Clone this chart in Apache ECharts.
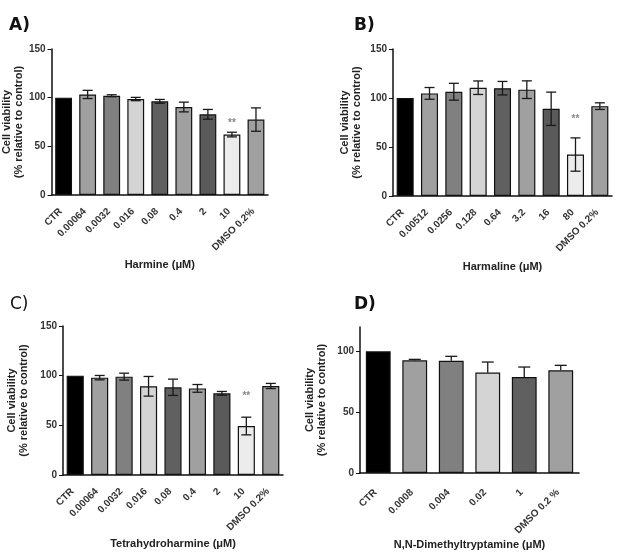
<!DOCTYPE html>
<html>
<head>
<meta charset="utf-8">
<script src="https://cdn.jsdelivr.net/npm/echarts@6/dist/echarts.min.js"></script>
<style>
    body{ margin:0; background:#fff; }
    #chart{ width:618px; height:560px; }
</style>
</head>
<body>
<div id="chart"></div>
<script>
// data
var catsA = ['CTR', '0.00064', '0.0032', '0.016', '0.08', '0.4', '2', '10', 'DMSO 0.2%'];
var meanA = [100, 103.3, 102, 98.6, 96.2, 90.4, 82.9, 62.1, 77.5];
var semA  = [0, 4.2, 1, 1.7, 2, 5, 5, 2.4, 12];
var sigA  = ['', '', '', '', '', '', '', '**', ''];

var catsB = ['CTR', '0.00512', '0.0256', '0.128', '0.64', '3.2', '16', '80', 'DMSO 0.2%'];
var meanB = [100, 104.7, 106.4, 110.5, 110, 108.5, 89, 42.3, 91.7];
var semB  = [0, 6, 8.6, 6.9, 6.9, 9, 17, 17, 3.4];
var sigB  = ['', '', '', '', '', '', '', '**', ''];

var catsC = ['CTR', '0.00064', '0.0032', '0.016', '0.08', '0.4', '2', '10', 'DMSO 0.2%'];
var meanC = [100, 98, 99, 89.3, 88.3, 87.2, 82.2, 49.3, 89.6];
var semC  = [0, 2.2, 3.5, 9.9, 8.2, 3.9, 1.9, 8.9, 2.6];
var sigC  = ['', '', '', '', '', '', '', '**', ''];

var catsD = ['CTR', '0.0008', '0.004', '0.02', '1', 'DMSO 0.2 %'];
var meanD = [100, 92.6, 92.3, 82.5, 78.9, 84.4];
var semD  = [0, 0.8, 3.6, 8.7, 8.2, 4.1];
var sigD  = ['', '', '', '', '', ''];

var yTicks = [0, 50, 100, 150];
var yTicksD = [0, 50, 100];

// gray shades per bar (styling)
var shades9 = ['#000000', '#a0a0a0', '#808080', '#d4d4d4', '#606060', '#a0a0a0', '#5a5a5a', '#ececec', '#a0a0a0'];
var shades6 = ['#000000', '#a0a0a0', '#808080', '#d4d4d4', '#606060', '#a0a0a0'];

var FONT = "'Liberation Sans', Arial, sans-serif";

function barData(means, shades){
    return means.map(function(v, i){
        return {value: v, itemStyle: {color: shades[i]}};
    });
}

function errData(means, sems){
    return means.map(function(v, i){ return [i, v, sems[i]]; });
}

// error bars drawn through the axis scale
function errRender(capW, upperOnly, sig, starGap){
    return function(params, api){
        var i = api.value(0), m = api.value(1), e = api.value(2);
        var style = {stroke: '#1a1a1a', lineWidth: 1.3};
        if (!e) return null;
        var top = api.coord([i, m + e]);
        var bot = api.coord([i, upperOnly ? m : m - e]);
        var h = capW / 2;
        var kids = [
            {type: 'line', shape: {x1: top[0], y1: top[1], x2: bot[0], y2: bot[1]}, style: style},
            {type: 'line', shape: {x1: top[0] - h, y1: top[1], x2: top[0] + h, y2: top[1]}, style: style}
        ];
        if (!upperOnly) {
            kids.push({type: 'line', shape: {x1: bot[0] - h, y1: bot[1], x2: bot[0] + h, y2: bot[1]}, style: style});
        }
        if (sig[i]) {
            kids.push({type: 'text', style: {
                text: sig[i], x: top[0], y: top[1] - starGap,
                align: 'center', verticalAlign: 'middle',
                fill: '#888', font: 'bold 10px ' + FONT
            }});
        }
        return {type: 'group', children: kids};
    };
}

var grids = [
    {left: 49, top: 49, width: 219, height: 146},
    {left: 393, top: 49, width: 219, height: 147},
    {left: 63, top: 326, width: 220, height: 149},
    {left: 360, top: 327, width: 219, height: 146}
];

var xNames = ['Harmine (\u03bcM)', 'Harmaline (\u03bcM)', 'Tetrahydroharmine (\u03bcM)', 'N,N-Dimethyltryptamine (\u03bcM)'];
var cats = [catsA, catsB, catsC, catsD];
var yNameGaps = [25, 30, 33, 32];
var xNameGaps = [64, 65, 63, 66];
var xLabelMargins = [12, 12, 12, 15];

var xAxes = cats.map(function(c, k){
    return {
        type: 'category', gridIndex: k, data: c,
        name: xNames[k], nameLocation: 'middle', nameGap: xNameGaps[k],
        nameTextStyle: {fontFamily: FONT, fontWeight: 'bold', fontSize: 11, color: '#222'},
        axisLine: {lineStyle: {color: '#111', width: 1.5}},
        axisTick: {alignWithLabel: true, length: 4, lineStyle: {color: '#111'}},
        axisLabel: {interval: 0, rotate: 45, margin: xLabelMargins[k], padding: [0, 4, 0, 0],
            fontFamily: FONT, fontWeight: 'bold', fontSize: 10, color: '#333'}
    };
});

var yAxes = [0, 1, 2, 3].map(function(k){
    var isD = k === 3;
    return {
        type: 'value', gridIndex: k, min: 0, max: isD ? 120 : 150, interval: 50,
        name: 'Cell viability\n(% relative to control)', nameLocation: 'middle', nameGap: yNameGaps[k],
        nameTextStyle: {fontFamily: FONT, fontWeight: 'bold', fontSize: 11, lineHeight: 12, color: '#222'},
        splitLine: {show: false},
        axisLine: {show: true, lineStyle: {color: '#111', width: 1.5}},
        axisTick: {show: true, length: 4, lineStyle: {color: '#111'}, customValues: isD ? yTicksD : yTicks},
        axisLabel: {margin: 6, fontFamily: FONT, fontWeight: 'bold', fontSize: 10, color: '#333', customValues: isD ? yTicksD : yTicks}
    };
});

var means = [meanA, meanB, meanC, meanD];
var sems = [semA, semB, semC, semD];
var sigs = [sigA, sigB, sigC, sigD];
var shades = [shades9, shades9, shades9, shades6];
var caps = [10, 10, 10, 12];
var starGaps = [9, 19, 21, 10];

var series = [];
for (var k = 0; k < 4; k++) {
    series.push({
        type: 'bar', xAxisIndex: k, yAxisIndex: k,
        barCategoryGap: k === 3 ? '32%' : '30%',
        itemStyle: {borderColor: '#111', borderWidth: 1.2},
        data: barData(means[k], shades[k])
    });
    series.push({
        type: 'custom', xAxisIndex: k, yAxisIndex: k, z: 5,
        renderItem: errRender(caps[k], k === 3, sigs[k], starGaps[k]),
        encode: {x: 0, y: 1},
        data: errData(means[k], sems[k])
    });
}

var chart = echarts.init(document.getElementById('chart'));
chart.setOption({
    animation: false,
    backgroundColor: '#fff',
    title: [
        {text: 'A)', left: 4, top: 12, textStyle: {fontFamily: "'DejaVu Sans', sans-serif", fontWeight: 'bold', fontSize: 17, color: '#111'}},
        {text: 'B)', left: 349, top: 12, textStyle: {fontFamily: "'DejaVu Sans', sans-serif", fontWeight: 'bold', fontSize: 17, color: '#111'}},
        {text: 'C)', left: 5, top: 291, textStyle: {fontFamily: "'DejaVu Sans', sans-serif", fontWeight: 'normal', fontSize: 17, color: '#111'}},
        {text: 'D)', left: 349, top: 291, textStyle: {fontFamily: "'DejaVu Sans', sans-serif", fontWeight: 'bold', fontSize: 17, color: '#111'}}
    ],
    grid: grids,
    xAxis: xAxes,
    yAxis: yAxes,
    series: series
});
</script>
</body>
</html>
